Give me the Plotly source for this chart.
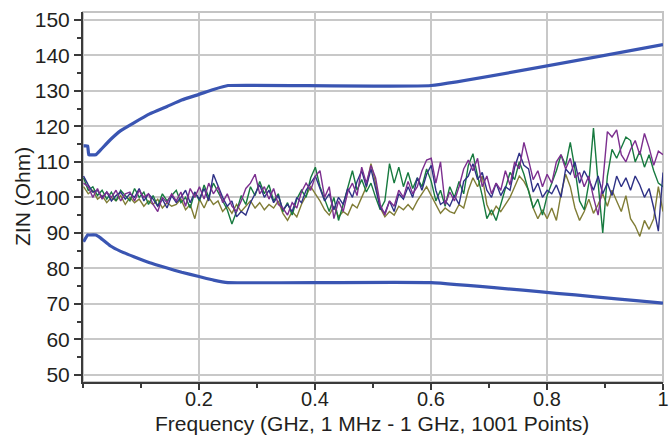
import numpy as np
import plotly.graph_objects as go

# Frequency sweep: 1 MHz - 1 GHz (sampled)
freq = np.linspace(0.001, 1.0, 126)

green = [105.5, 102, 103, 100.5, 102, 99.5, 101.5, 99, 102, 100.5,
         99, 102.5, 100, 101.5, 98, 100.5, 97.5, 101, 99, 100.5,
         102, 98.5, 100, 97, 101.5, 99, 103.5, 100, 104, 101.5,
         99, 96.5, 92.5, 96, 100.5, 98, 103, 100.5, 104.5, 101,
         103.5, 99, 101, 96, 98.5, 95, 99.5, 102, 100, 105.5,
         108.5, 103, 99.5, 96, 100, 93.5, 98, 103, 107.5, 102,
         105, 101.5, 104, 100, 96.5, 99, 109.5, 104, 108.5, 103,
         107, 102.5, 105.5, 103, 108, 104.5, 99, 102, 97.5, 103,
         100, 104.5, 101, 109, 112.3, 106, 100.5, 94, 96.5, 93.5,
         98, 102, 107, 105, 110, 106.5, 102, 97, 99.5, 95,
         100.5, 104, 107.5, 112, 109, 115.5, 108, 99, 96.5, 104,
         119.5, 104, 90, 106, 113.5, 111, 114, 117, 116, 110,
         113, 108.5, 112, 107.5, 104, 103]

purple = [104, 103, 100, 102.5, 99.5, 101.5, 100, 102, 99, 101,
          101.5, 99, 102, 100, 101, 98, 96, 100, 98.5, 101,
          99, 101.5, 97.5, 102.5, 100, 103, 99.5, 104, 101, 103,
          98.5, 101, 97.5, 96, 99, 102.5, 104, 106.5, 101, 103,
          99.5, 102.5, 98, 97, 95, 98.5, 97, 101.5, 104, 102,
          106, 107.5, 100, 103, 94, 99, 96, 101.5, 104, 100.5,
          108.5, 104, 109, 105.5, 98, 95, 99, 97.5, 102, 100,
          104.5, 101, 103, 107.5, 110.5, 111, 104, 110, 98, 101.5,
          99, 103, 108, 110.5, 107.5, 111, 103, 106, 101, 104,
          102, 107.5, 103.5, 110, 108, 115.5, 110.5, 105, 107.5, 103,
          106.5, 104, 110, 112, 108, 111, 105.5, 107, 103, 106,
          100, 95, 104, 118.5, 117, 119, 112, 110, 113.5, 116,
          112, 118, 114, 109, 113, 112]

olive = [103, 101, 102, 99.5, 100.5, 98.5, 100, 99, 100.5, 98,
         100, 98.5, 99.5, 97.5, 99, 98, 99.5, 97, 98.5, 97.5,
         98, 99.5, 96.5, 98, 94, 99.5, 97, 100, 98, 99,
         96, 97.5, 95.5, 98, 96, 97.5, 99, 97, 98.5, 96.5,
         98, 97, 99, 95.5, 93.5, 96, 94.5, 98, 100.5, 103,
         101, 99, 96.5, 95, 97.5, 94.5, 96, 95, 98, 97,
         100, 103, 109.5, 104, 97, 94.5, 96, 95, 97.5, 96.5,
         98, 96.5, 99, 101, 103, 100.5, 98, 95.5, 97, 96,
         95.5, 98, 97, 102, 105.5, 103, 106, 98, 95, 97.5,
         96, 98, 100, 103, 106, 104.5, 102, 97, 94, 96.5,
         94, 97, 93.5, 101, 106.5, 103, 97, 93.5, 96, 99.5,
         95.5, 98, 101, 97.5, 102, 99, 96, 100.5, 94, 92,
         89, 93.5, 91, 94, 103, 96]

blue = [106, 103.5, 101.5, 102, 100, 101.5, 99, 100.5, 101.5, 99.5,
        101, 100, 102.5, 99, 101, 99.5, 97.5, 99.5, 97, 100.5,
        98.5, 100, 102, 98.5, 101.5, 99.5, 102.5, 99, 106.5, 103,
        100, 97.5, 99, 94.5, 96, 95, 98.5, 101, 103.5, 100,
        102, 98.5, 100.5, 96.5, 98, 96, 100, 98.5, 102, 104,
        106, 102.5, 99, 101, 96.5, 100, 98, 102.5, 100, 104.5,
        107.5, 103, 108, 102.5, 97, 95.5, 99, 96, 101, 99.5,
        103, 100, 105.5, 102, 106.5, 109, 102, 98, 99, 97.5,
        100.5, 98, 104.5, 106, 109.5, 105, 107, 102, 100, 104,
        100.5, 103, 102, 108.5, 112.5, 109, 108, 101.5, 104, 100,
        102, 101, 103.5, 100, 108, 106.5, 110, 104, 107.5, 105,
        102, 106, 101, 104, 100.5, 106, 103, 105.5, 102, 106,
        103.5, 100, 102.5, 97, 90.5, 107]

limit_upper_f = [0.001, 0.008, 0.010, 0.022, 0.030, 0.0475, 0.065, 0.0877, 0.115, 0.145, 0.17, 0.2, 0.225, 0.25, 0.6, 1.0]
limit_upper = [114.5, 114.5, 112, 112, 113.3, 116.3, 118.8, 121.0, 123.5, 125.6, 127.4, 129.0, 130.4, 131.5, 131.5, 143.0]
limit_lower_f = [0.001, 0.008, 0.010, 0.022, 0.030, 0.0475, 0.065, 0.0877, 0.115, 0.145, 0.17, 0.2, 0.225, 0.25, 0.6, 1.0]
limit_lower = [87.5, 89.4, 89.4, 89.4, 88.6, 86.3, 84.8, 83.3, 81.6, 80.1, 78.9, 77.7, 76.7, 76.0, 76.0, 70.2]

y_ticks = [50, 60, 70, 80, 90, 100, 110, 120, 130, 140, 150]
x_ticks = [0.2, 0.4, 0.6, 0.8, 1.0]
x_tick_text = ["0.2", "0.4", "0.6", "0.8", "1"]
x_title = "Frequency (GHz, 1 MHz - 1 GHz, 1001 Points)"
y_title = "ZIN (Ohm)"

fig = go.Figure()
series = [("olive", olive, "#807d36"), ("green", green, "#177a3f"),
          ("blue", blue, "#2e3186"), ("purple", purple, "#7c2f8f")]
for name, vals, col in series:
    fig.add_trace(go.Scatter(x=freq, y=vals, mode="lines", name=name,
                             line=dict(color=col, width=1.4)))
fig.add_trace(go.Scatter(x=limit_upper_f, y=limit_upper, mode="lines",
                         line=dict(color="#3a55b2", width=3.2, shape="spline", smoothing=0.3)))
fig.add_trace(go.Scatter(x=limit_lower_f, y=limit_lower, mode="lines",
                         line=dict(color="#3a55b2", width=3.2, shape="spline", smoothing=0.3)))

font = "Liberation Sans"
PW, PH = 580, 370  # plot area size in px
fig.update_layout(
    width=672, height=436,
    margin=dict(l=83, r=9, t=12, b=54),
    paper_bgcolor="white", plot_bgcolor="white",
    showlegend=False,
    font=dict(family=font, size=21, color="#231f20"),
    shapes=[dict(type="rect", xref="paper", yref="paper", x0=0, y0=0, x1=1, y1=1,
                 line=dict(color="#c4c4c4", width=2), layer="below")],
    annotations=[
        dict(text=x_title, xref="paper", yref="paper", x=(372 - 83) / PW, y=-(423 - 382) / PH,
             xanchor="center", yanchor="middle", showarrow=False, font=dict(size=21)),
        dict(text=y_title, xref="paper", yref="paper", x=-(83 - 22) / PW, y=(382 - 197) / PH,
             xanchor="center", yanchor="middle", textangle=-90, showarrow=False, font=dict(size=21)),
    ],
)
fig.update_xaxes(
    range=[0, 1.0], tickvals=x_ticks, ticktext=x_tick_text,
    automargin=False,
    showgrid=True, gridcolor="#c8c8c8", gridwidth=2,
    showline=True, linecolor="#3a3a3a", linewidth=2,
    ticks="outside", ticklen=6, tickcolor="#3a3a3a", tickwidth=1.5,
    ticklabelstandoff=-8,
    minor=dict(dtick=0.1, tick0=0, ticks="outside", ticklen=4, tickcolor="#3a3a3a", showgrid=False),
    zeroline=False,
    tickfont=dict(size=20),
)
fig.update_yaxes(
    range=[48, 152.2], tickvals=y_ticks,
    automargin=False,
    showgrid=True, gridcolor="#c8c8c8", gridwidth=2,
    showline=True, linecolor="#3a3a3a", linewidth=2,
    ticks="outside", ticklen=7, tickcolor="#3a3a3a", tickwidth=1.5,
    minor=dict(dtick=5, tick0=0, ticks="outside", ticklen=4, tickcolor="#3a3a3a", showgrid=False),
    zeroline=False,
    tickfont=dict(size=21),
)
fig.write_html("out.html")
